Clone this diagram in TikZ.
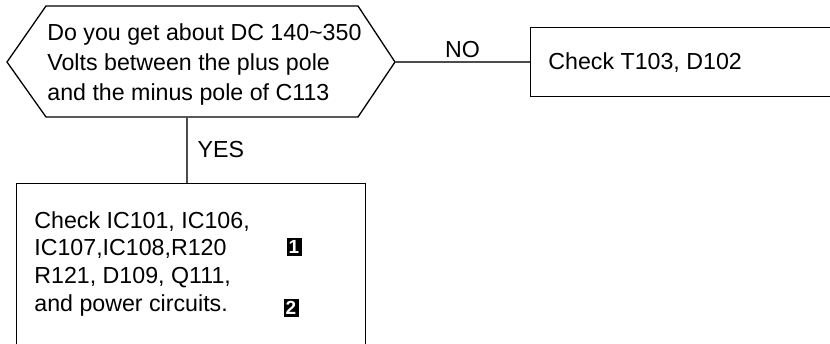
\documentclass[tikz,border=0pt]{standalone}
\usepackage{fontspec}
\setmainfont{Liberation Sans}
\usetikzlibrary{positioning}

\begin{document}
\begin{tikzpicture}[x=0.5pt,y=-0.5pt,
        txt/.style={align=left,inner sep=0pt,font=\fontsize{11.6}{15}\selectfont},
        box/.style={draw=black,line width=0.65pt,inner sep=0pt},
        wire/.style={draw=black!70,line width=0.6pt},
        badge/.style={fill=black,text=white,inner sep=0pt,minimum width=7.5pt,minimum height=9pt,font=\bfseries\fontsize{9.5}{9.5}\selectfont}]
        \useasboundingbox (0,0) rectangle (830,343);
        \clip (0,0) rectangle (830,343);
        % question
        \coordinate (qW) at (7,62);
        \coordinate (qE) at (395,62);
        \coordinate (qS) at (187,117);
        \draw[box] (qW)--(46,6)--(358,6)--(qE)--(358,117)--(46,117)--cycle;
        \node[txt,anchor=north west] (q) at (47,23) {Do you get about DC 140\textasciitilde350\\Volts between the plus pole\\and the minus pole of C113};
        % answers
        \node[box,anchor=west,minimum width=200pt,minimum height=34.5pt] (chkT) at (530,62) {};
        \node[txt,anchor=base west] (tT) at (548,69) {Check T103, D102};
        \node[box,anchor=north west,minimum width=174.5pt,minimum height=100pt] (chkIC) at (16,183) {};
        \node[txt,anchor=north west,font=\fontsize{11.6}{13.85}\selectfont] (tIC) at (34,211) {Check IC101, IC106,\\IC107,IC108,R120\\R121, D109, Q111,\\and power circuits.};
        \node[badge] (b1) at (294,247) {1};
        \node[badge] (b2) at (291,308) {2};
        % connectors
        \draw[wire] (qE)--(chkT.west) node[midway,above=2pt,txt]{NO};
        \draw[wire] (qS)--(qS |- chkIC.north) node[midway,right=5pt,txt]{YES};
\end{tikzpicture}
\end{document}
